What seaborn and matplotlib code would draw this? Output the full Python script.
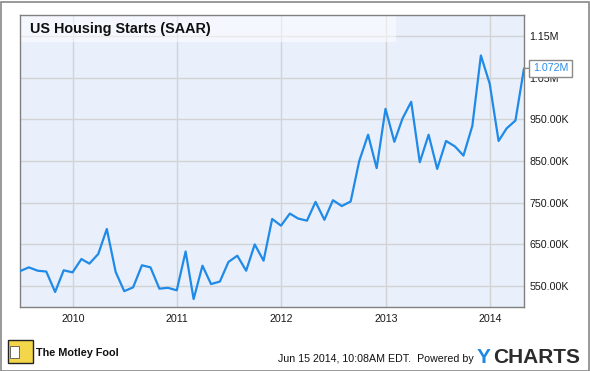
import matplotlib
matplotlib.use("Agg")
import matplotlib.pyplot as plt
import matplotlib.dates as mdates
import matplotlib.ticker as mticker
from matplotlib.patches import Rectangle
import numpy as np
import pandas as pd
import seaborn as sns

# ---- data (thousands of units, SAAR), monthly, dated at month end ----
start_month = "2009-06-30"
starts_2009 = [586, 595, 587, 585, 536, 588, 583]
starts_2010 = [615, 604, 627, 687, 584, 538, 547, 600, 595, 544, 546, 540]
starts_2011 = [633, 519, 599, 555, 561, 608, 623, 587, 650, 611, 711, 695]
starts_2012 = [724, 712, 707, 752, 709, 756, 742, 753, 850, 913, 833, 975]
starts_2013 = [896, 951, 992, 847, 913, 831, 898, 885, 863, 934, 1103, 1035]
starts_2014 = [898, 928, 947, 1072]
values = starts_2009 + starts_2010 + starts_2011 + starts_2012 + starts_2013 + starts_2014
dates = pd.date_range(start_month, periods=len(values), freq="ME")
y_ticks = [550, 650, 750, 850, 950, 1050, 1150]
x_years = [2010, 2011, 2012, 2013, 2014]
title = "US Housing Starts (SAAR)"
last_label = "1.072M"

df = pd.DataFrame({"date": dates, "starts": values})

sns.set_theme(style="white")
plt.rcParams["font.family"] = ["Liberation Sans", "DejaVu Sans"]

W, H = 590, 371
fig = plt.figure(figsize=(W / 100, H / 100), dpi=100)
fig.patch.set_facecolor("white")

# plot area in pixels
L, R, T, B = 20, 524, 15, 307
ax = fig.add_axes([L / W, 1 - B / H, (R - L) / W, (B - T) / H])
ax.set_facecolor("#e9f0fb")

line_color = "#1f8ae8"
sns.lineplot(data=df, x="date", y="starts", ax=ax, color=line_color, lw=1.6, zorder=3)

ax.set_xlim(dates[0], dates[-1])
ax.set_ylim(500, 1200)
ax.set_xlabel("")
ax.set_ylabel("")

ax.set_xticks([pd.Timestamp(f"{y}-01-01") for y in x_years])
ax.xaxis.set_major_formatter(mdates.DateFormatter("%Y"))
ax.set_yticks(y_ticks)


def fmt(v, pos):
    if v >= 1000:
        return f"{v/1000:.2f}M"
    return f"{v:.2f}K"


ax.yaxis.set_major_formatter(mticker.FuncFormatter(fmt))
ax.yaxis.tick_right()
ax.tick_params(axis="both", length=0, labelsize=7.7, colors="#1a1a1a")
ax.tick_params(axis="y", pad=4)
ax.tick_params(axis="x", pad=5)

ax.grid(True, color="#d3d3d3", lw=1, zorder=1)
ax.set_axisbelow(True)
for s in ax.spines.values():
    s.set_visible(True)
    s.set_color("#808080")
    s.set_linewidth(1)

# translucent title band
ax.add_patch(Rectangle((0, (B - 42) / (B - T)), (396 - L) / (R - L), 1 - (B - 42) / (B - T),
                       transform=ax.transAxes, facecolor="white", alpha=0.5,
                       edgecolor="none", zorder=2))
ax.text((30 - L) / (R - L), (B - 29) / (B - T), title, transform=ax.transAxes,
        fontsize=10.4, fontweight="bold", color="#111111", va="center", ha="left", zorder=4)

# last value callout
ax.annotate(last_label, xy=(df["date"].iloc[-1], df["starts"].iloc[-1]),
            xytext=(6.5, 0), textcoords="offset points", ha="left", va="center",
            fontsize=7.7, color="#2a8ff0", annotation_clip=False, zorder=6,
            bbox=dict(boxstyle="square,pad=0.35", facecolor="white", edgecolor="#8a8a8a", lw=1),
            arrowprops=dict(arrowstyle="-", color="#8a8a8a", lw=1, shrinkA=0, shrinkB=0))

# footer: logo + text
fig.patches.append(Rectangle((8 / W, 1 - 363 / H), 25 / W, 23 / H, transform=fig.transFigure,
                             facecolor="#f4d64a", edgecolor="#222222", lw=1))
fig.patches.append(Rectangle((10 / W, 1 - 358 / H), 9 / W, 12 / H, transform=fig.transFigure,
                             facecolor="#ffffff", edgecolor="#555555", lw=0.6))
fig.text(36 / W, 1 - 356 / H, "The Motley Fool", fontsize=7.8, fontweight="bold",
         color="#111111", ha="left", va="baseline")
fig.text(474 / W, 1 - 362 / H, "Jun 15 2014, 10:08AM EDT.  Powered by", fontsize=7.7,
         color="#111111", ha="right", va="baseline")
fig.text(491 / W, 1 - 363 / H, "Y", fontsize=15, fontweight="bold", color="#1e88e5",
         ha="right", va="baseline")
fig.text(580 / W, 1 - 363 / H, "CHARTS", fontsize=15, fontweight="bold", color="#2b2b2b",
         ha="right", va="baseline")

# outer border
fig.patches.append(Rectangle((0.5 / W, 0.5 / H), (W - 2) / W, (H - 2) / H, transform=fig.transFigure,
                             facecolor="none", edgecolor="#888888", lw=1.2))

fig.savefig("out.png", dpi=100, facecolor="white")
